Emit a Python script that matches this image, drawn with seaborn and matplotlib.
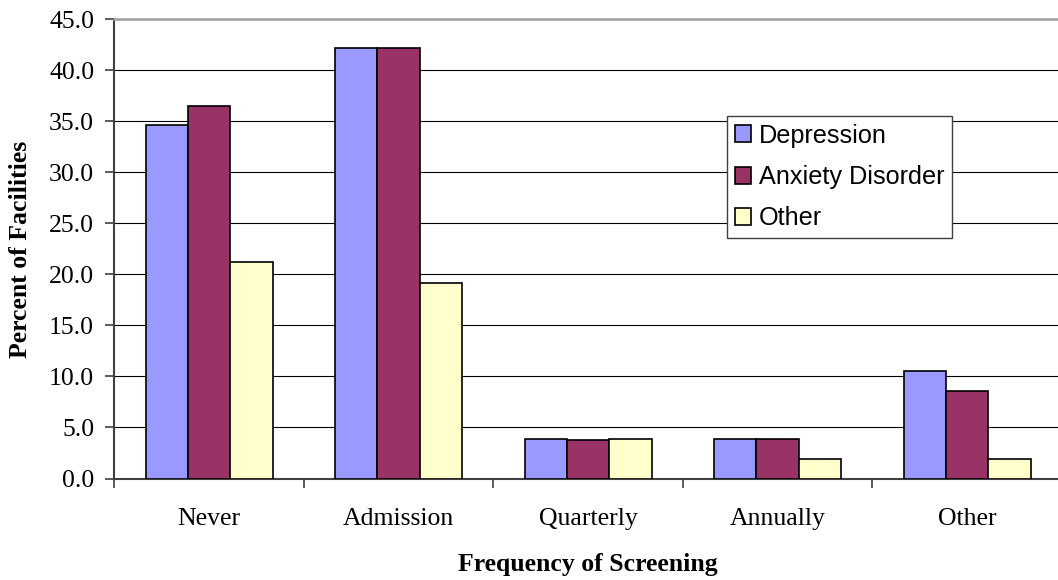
import matplotlib
matplotlib.use("Agg")
import matplotlib.pyplot as plt
import seaborn as sns
import pandas as pd
from matplotlib.ticker import FixedLocator, NullFormatter

categories = ["Never", "Admission", "Quarterly", "Annually", "Other"]
series_names = ["Depression", "Anxiety Disorder", "Other"]
depression = [34.6, 42.2, 3.9, 3.9, 10.5]
anxiety = [36.5, 42.2, 3.8, 3.9, 8.6]
other = [21.2, 19.2, 3.9, 1.9, 1.9]
colors = ["#9999FF", "#993366", "#FFFFCC"]
y_ticks = [0, 5, 10, 15, 20, 25, 30, 35, 40, 45]

rows = []
for name, vals in zip(series_names, [depression, anxiety, other]):
    for c, v in zip(categories, vals):
        rows.append({"Frequency": c, "Series": name, "Percent": v})
df = pd.DataFrame(rows)

sns.set_style("white")
plt.rcParams["font.family"] = ["Liberation Serif", "DejaVu Serif"]
plt.rcParams["text.color"] = "black"
plt.rcParams["axes.labelcolor"] = "black"

fig = plt.figure(figsize=(10.58, 5.80), dpi=100)
left = 114.3 / 1058
bottom = (580 - 478.5) / 580
top = (580 - 19.3) / 580
width = 5 * 189.5 / 1058
ax = fig.add_axes([left, bottom, width, top - bottom])

sns.barplot(data=df, x="Frequency", y="Percent", hue="Series",
            order=categories, hue_order=series_names,
            palette=colors, saturation=1, width=0.67,
            edgecolor="black", linewidth=1.2, ax=ax, zorder=3)

ax.set_xlim(-0.5, 4.5)
ax.set_ylim(0, 45)
ax.set_yticks(y_ticks)
ax.set_yticklabels([f"{t:.1f}" for t in y_ticks], fontsize=18.5)
ax.yaxis.grid(True, color="black", linewidth=0.8, zorder=0)
ax.set_axisbelow(True)

# category boundary ticks, labels at centres
ax.xaxis.set_major_locator(FixedLocator([i - 0.5 for i in range(6)]))
ax.xaxis.set_major_formatter(NullFormatter())
ax.xaxis.set_minor_locator(FixedLocator(list(range(5))))
ax.set_xticklabels(categories, minor=True, fontsize=18.5)
ax.tick_params(axis="x", which="major", direction="out", length=6.5,
               width=1.2, color="#404040", bottom=True)
ax.tick_params(axis="x", which="minor", length=0, pad=21, bottom=True,
               labelcolor="black")
ax.tick_params(axis="y", direction="out", length=6.5, width=1.2,
               color="#404040", pad=8, left=True, labelcolor="black")

for s in ["left", "bottom"]:
    ax.spines[s].set_color("#404040")
    ax.spines[s].set_linewidth(1.5)
ax.spines["top"].set_color("#A0A0A0")
ax.spines["top"].set_linewidth(1.8)
ax.spines["right"].set_visible(False)

ax.set_xlabel("Frequency of Screening", fontsize=18.5, fontweight="bold",
              labelpad=17, color="black")
ax.set_ylabel("Percent of Facilities", fontsize=18.5, fontweight="bold",
              labelpad=12, color="black")

handles, labels = ax.get_legend_handles_labels()
leg = ax.legend(handles, labels, loc="upper left",
                bbox_to_anchor=(727 / 1058, 1 - 116 / 580),
                bbox_transform=fig.transFigure,
                prop={"family": ["Liberation Sans", "DejaVu Sans"], "size": 18.2},
                frameon=True, fancybox=False, shadow=False, framealpha=1,
                edgecolor="#404040", borderpad=0.3, labelspacing=0.69,
                handlelength=0.65, handleheight=0.65, handletextpad=0.3,
                borderaxespad=0, labelcolor="black")
leg.get_frame().set_linewidth(1.0)

fig.savefig("out.png", dpi=100)
